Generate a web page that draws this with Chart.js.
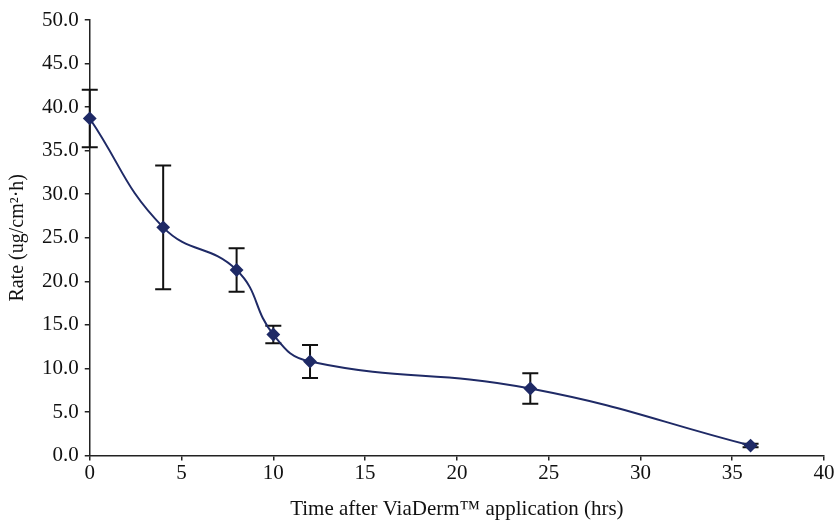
<!DOCTYPE html>
<html>
<head>
<meta charset="utf-8">
<script src="https://cdn.jsdelivr.net/npm/chart.js@4"></script>
<style>
  html, body { margin: 0; padding: 0; background: #ffffff; }
  #wrap { width: 835px; height: 522px; }
</style>
</head>
<body>
<div id="wrap"><canvas id="rateChart"></canvas></div>
<script>
// data
var hours = [0, 4, 8, 10, 12, 24, 36];
var rate = [38.7, 26.2, 21.3, 13.9, 10.8, 7.7, 1.15];
var rateErr = [3.3, 7.1, 2.5, 1.0, 1.9, 1.75, 0.2];
var xTicks = [0, 5, 10, 15, 20, 25, 30, 35, 40];
var yTicks = [0, 5, 10, 15, 20, 25, 30, 35, 40, 45, 50];

var points = [];
for (var i = 0; i < hours.length; i++) {
  points.push({ x: hours[i], y: rate[i] });
}

// draws the black error bars under the markers
var errorBars = {
  id: 'errorBars',
  beforeDatasetsDraw: function(chart) {
    var ctx = chart.ctx;
    var xs = chart.scales.x;
    var ys = chart.scales.y;
    ctx.save();
    ctx.strokeStyle = '#111111';
    ctx.lineWidth = 2;
    for (var i = 0; i < hours.length; i++) {
      var px = xs.getPixelForValue(hours[i]);
      var top = ys.getPixelForValue(rate[i] + rateErr[i]);
      var bot = ys.getPixelForValue(rate[i] - rateErr[i]);
      ctx.beginPath();
      ctx.moveTo(px, top);
      ctx.lineTo(px, bot);
      ctx.moveTo(px - 8, top);
      ctx.lineTo(px + 8, top);
      ctx.moveTo(px - 8, bot);
      ctx.lineTo(px + 8, bot);
      ctx.stroke();
    }
    ctx.restore();
  }
};

var serif = "'Liberation Serif', 'Times New Roman', serif";

new Chart(document.getElementById('rateChart'), {
  type: 'line',
  data: {
    datasets: [{
      data: points,
      borderColor: '#1f2a66',
      backgroundColor: '#1f2a66',
      borderWidth: 2,
      tension: 0.45,
      pointStyle: 'rectRot',
      pointRadius: 5.5,
      pointHoverRadius: 5.5,
      clip: false
    }]
  },
  options: {
    responsive: true,
    maintainAspectRatio: false,
    animation: false,
    layout: { padding: { top: 20, right: 11, left: 6, bottom: 0 } },
    plugins: {
      legend: { display: false },
      tooltip: { enabled: false }
    },
    scales: {
      x: {
        type: 'linear',
        min: 0,
        max: 40,
        afterBuildTicks: function(scale) {
          scale.ticks = xTicks.map(function(v) { return { value: v }; });
        },
        grid: { display: true, drawOnChartArea: false, tickLength: 5, tickColor: '#222222', lineWidth: 1.5 },
        border: { display: true, color: '#222222', width: 1.5 },
        ticks: { color: '#111111', font: { family: serif, size: 21 }, padding: 0, maxRotation: 0 },
        title: {
          display: true,
          text: 'Time after ViaDerm\u2122 application (hrs)',
          color: '#111111',
          font: { family: serif, size: 21 },
          padding: { top: 11, bottom: 0 }
        }
      },
      y: {
        min: 0,
        max: 50,
        afterBuildTicks: function(scale) {
          scale.ticks = yTicks.map(function(v) { return { value: v }; });
        },
        grid: { display: true, drawOnChartArea: false, tickLength: 5, tickColor: '#222222', lineWidth: 1.5 },
        border: { display: true, color: '#222222', width: 1.5 },
        ticks: {
          color: '#111111',
          font: { family: serif, size: 21 },
          padding: 6,
          callback: function(v) { return Number(v).toFixed(1); }
        },
        title: {
          display: true,
          text: 'Rate (ug/cm\u00b2\u00b7h)',
          color: '#111111',
          font: { family: serif, size: 20 },
          padding: { top: 0, bottom: 6 }
        }
      }
    }
  },
  plugins: [errorBars]
});
</script>
</body>
</html>
